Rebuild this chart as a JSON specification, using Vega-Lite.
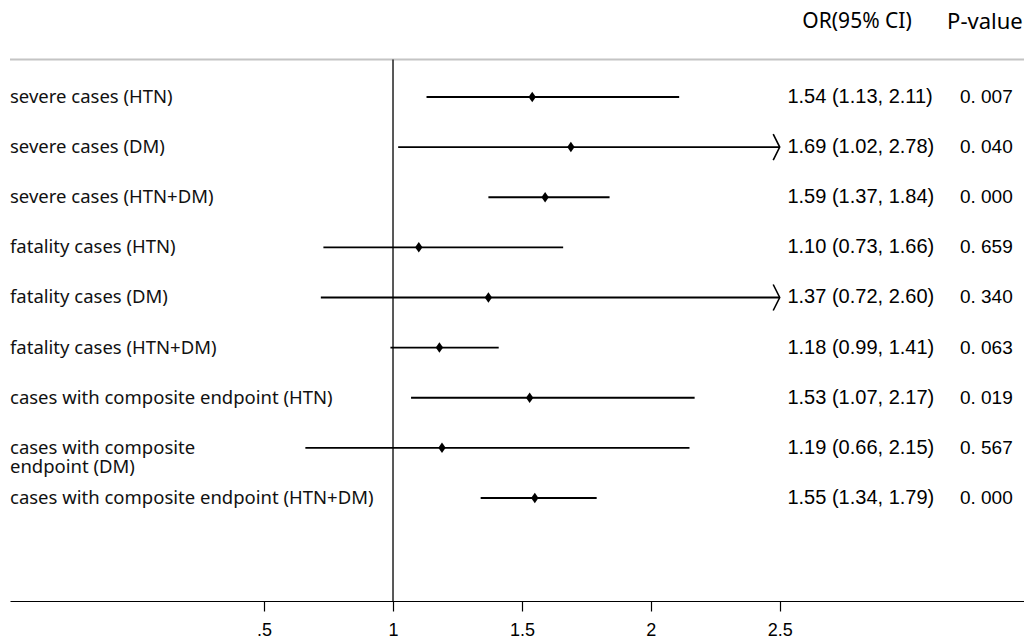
{
  "$schema": "https://vega.github.io/schema/vega-lite/v6.json",
  "autosize": {"type": "none"},
  "width": 1014,
  "height": 601,
  "padding": {"left": 10, "top": 0, "right": 0, "bottom": 38},
  "background": "white",
  "config": {"view": {"stroke": null}},
  "datasets": {
    "rows": [
      {"row": 1, "label": "severe cases (HTN)", "or": 1.54, "lo": 1.13, "hi": 2.11, "or_ci": "1.54 (1.13, 2.11)", "p": "0. 007"},
      {"row": 2, "label": "severe cases (DM)", "or": 1.69, "lo": 1.02, "hi": 2.78, "or_ci": "1.69 (1.02, 2.78)", "p": "0. 040"},
      {"row": 3, "label": "severe cases (HTN+DM)", "or": 1.59, "lo": 1.37, "hi": 1.84, "or_ci": "1.59 (1.37, 1.84)", "p": "0. 000"},
      {"row": 4, "label": "fatality cases (HTN)", "or": 1.10, "lo": 0.73, "hi": 1.66, "or_ci": "1.10 (0.73, 1.66)", "p": "0. 659"},
      {"row": 5, "label": "fatality cases (DM)", "or": 1.37, "lo": 0.72, "hi": 2.60, "or_ci": "1.37 (0.72, 2.60)", "p": "0. 340"},
      {"row": 6, "label": "fatality cases (HTN+DM)", "or": 1.18, "lo": 0.99, "hi": 1.41, "or_ci": "1.18 (0.99, 1.41)", "p": "0. 063"},
      {"row": 7, "label": "cases with composite endpoint (HTN)", "or": 1.53, "lo": 1.07, "hi": 2.17, "or_ci": "1.53 (1.07, 2.17)", "p": "0. 019"},
      {"row": 8, "label": "cases with composite\nendpoint (DM)", "or": 1.19, "lo": 0.66, "hi": 2.15, "or_ci": "1.19 (0.66, 2.15)", "p": "0. 567"},
      {"row": 9, "label": "cases with composite endpoint (HTN+DM)", "or": 1.55, "lo": 1.34, "hi": 1.79, "or_ci": "1.55 (1.34, 1.79)", "p": "0. 000"}
    ]
  },
  "layer": [
    {
      "data": {"values": [{}]},
      "mark": {"type": "rule", "color": "#c4c4c4", "strokeWidth": 2},
      "encoding": {
        "y": {"datum": 0.252, "type": "quantitative", "scale": {"domain": [-0.935, 11.055], "reverse": true, "nice": false, "zero": false}, "axis": null}
      }
    },
    {
      "data": {"values": [{}]},
      "mark": {"type": "rule", "color": "#222222", "strokeWidth": 1.5},
      "encoding": {
        "x": {"datum": 1, "type": "quantitative", "scale": {"domain": [-0.4857, 3.4476], "nice": false, "zero": false},
          "axis": {"values": [0.5, 1, 1.5, 2, 2.5], "labelExpr": "datum.value == 0.5 ? '.5' : format(datum.value, '~g')", "title": null, "grid": false, "tickSize": 10, "domainColor": "black", "tickColor": "black", "labelColor": "black", "labelFont": "Liberation Sans", "labelFontSize": 18, "labelPadding": 10, "labelFlush": false, "domainWidth": 1.2, "tickWidth": 1.2}},
        "y": {"datum": 0.252, "type": "quantitative", "scale": {"domain": [-0.935, 11.055], "reverse": true, "nice": false, "zero": false}, "axis": null},
        "y2": {"datum": 11.055}
      }
    },
    {
      "data": {"name": "rows"},
      "transform": [{"calculate": "min(datum.hi, 2.5)", "as": "hi_draw"}],
      "mark": {"type": "rule", "color": "black", "strokeWidth": 1.8},
      "encoding": {
        "x": {"field": "lo", "type": "quantitative", "scale": {"domain": [-0.4857, 3.4476], "nice": false, "zero": false},
          "axis": {"values": [0.5, 1, 1.5, 2, 2.5], "labelExpr": "datum.value == 0.5 ? '.5' : format(datum.value, '~g')", "title": null, "grid": false, "tickSize": 10, "domainColor": "black", "tickColor": "black", "labelColor": "black", "labelFont": "Liberation Sans", "labelFontSize": 18, "labelPadding": 10, "labelFlush": false, "domainWidth": 1.2, "tickWidth": 1.2}},
        "x2": {"field": "hi_draw"},
        "y": {"field": "row", "type": "quantitative", "scale": {"domain": [-0.935, 11.055], "reverse": true, "nice": false, "zero": false}, "axis": null}
      }
    },
    {
      "data": {"name": "rows"},
      "transform": [{"filter": "datum.hi > 2.5"}, {"calculate": "min(datum.hi, 2.5)", "as": "hi_draw"}],
      "mark": {"type": "point", "shape": "M-0.5,-1L0,0L-0.5,1", "filled": false, "stroke": "black", "strokeWidth": 1.6, "size": 676, "opacity": 1},
      "encoding": {
        "x": {"field": "hi_draw", "type": "quantitative", "scale": {"domain": [-0.4857, 3.4476], "nice": false, "zero": false},
          "axis": {"values": [0.5, 1, 1.5, 2, 2.5], "labelExpr": "datum.value == 0.5 ? '.5' : format(datum.value, '~g')", "title": null, "grid": false, "tickSize": 10, "domainColor": "black", "tickColor": "black", "labelColor": "black", "labelFont": "Liberation Sans", "labelFontSize": 18, "labelPadding": 10, "labelFlush": false, "domainWidth": 1.2, "tickWidth": 1.2}},
        "y": {"field": "row", "type": "quantitative", "scale": {"domain": [-0.935, 11.055], "reverse": true, "nice": false, "zero": false}, "axis": null}
      }
    },
    {
      "data": {"name": "rows"},
      "mark": {"type": "point", "shape": "M0,-1L0.7,0L0,1L-0.7,0Z", "filled": true, "color": "black", "size": 110, "opacity": 1},
      "encoding": {
        "x": {"field": "or", "type": "quantitative", "scale": {"domain": [-0.4857, 3.4476], "nice": false, "zero": false},
          "axis": {"values": [0.5, 1, 1.5, 2, 2.5], "labelExpr": "datum.value == 0.5 ? '.5' : format(datum.value, '~g')", "title": null, "grid": false, "tickSize": 10, "domainColor": "black", "tickColor": "black", "labelColor": "black", "labelFont": "Liberation Sans", "labelFontSize": 18, "labelPadding": 10, "labelFlush": false, "domainWidth": 1.2, "tickWidth": 1.2}},
        "y": {"field": "row", "type": "quantitative", "scale": {"domain": [-0.935, 11.055], "reverse": true, "nice": false, "zero": false}, "axis": null}
      }
    },
    {
      "data": {"name": "rows"},
      "mark": {"type": "text", "align": "left", "baseline": "middle", "font": "Noto Sans", "fontSize": 18.5, "color": "#111111", "lineBreak": "\n", "lineHeight": 19},
      "encoding": {
        "x": {"datum": -0.4857, "type": "quantitative"},
        "y": {"field": "row", "type": "quantitative"},
        "text": {"field": "label"}
      }
    },
    {
      "data": {"name": "rows"},
      "mark": {"type": "text", "align": "left", "baseline": "middle", "font": "Liberation Sans", "fontSize": 20, "color": "black"},
      "encoding": {
        "x": {"datum": 2.53, "type": "quantitative"},
        "y": {"field": "row", "type": "quantitative"},
        "text": {"field": "or_ci"}
      }
    },
    {
      "data": {"name": "rows"},
      "mark": {"type": "text", "align": "left", "baseline": "middle", "font": "Liberation Sans", "fontSize": 19, "color": "black"},
      "encoding": {
        "x": {"datum": 3.199, "type": "quantitative"},
        "y": {"field": "row", "type": "quantitative"},
        "text": {"field": "p"}
      }
    },
    {
      "data": {"values": [{}]},
      "mark": {"type": "text", "align": "center", "baseline": "middle", "font": "Noto Sans", "fontSize": 21, "color": "black"},
      "encoding": {
        "x": {"datum": 2.80, "type": "quantitative"},
        "y": {"datum": -0.496, "type": "quantitative"},
        "text": {"value": "OR(95% CI)"}
      }
    },
    {
      "data": {"values": [{}]},
      "mark": {"type": "text", "align": "center", "baseline": "middle", "font": "Noto Sans", "fontSize": 22, "color": "black"},
      "encoding": {
        "x": {"datum": 3.296, "type": "quantitative"},
        "y": {"datum": -0.496, "type": "quantitative"},
        "text": {"value": "P-value"}
      }
    }
  ]
}
